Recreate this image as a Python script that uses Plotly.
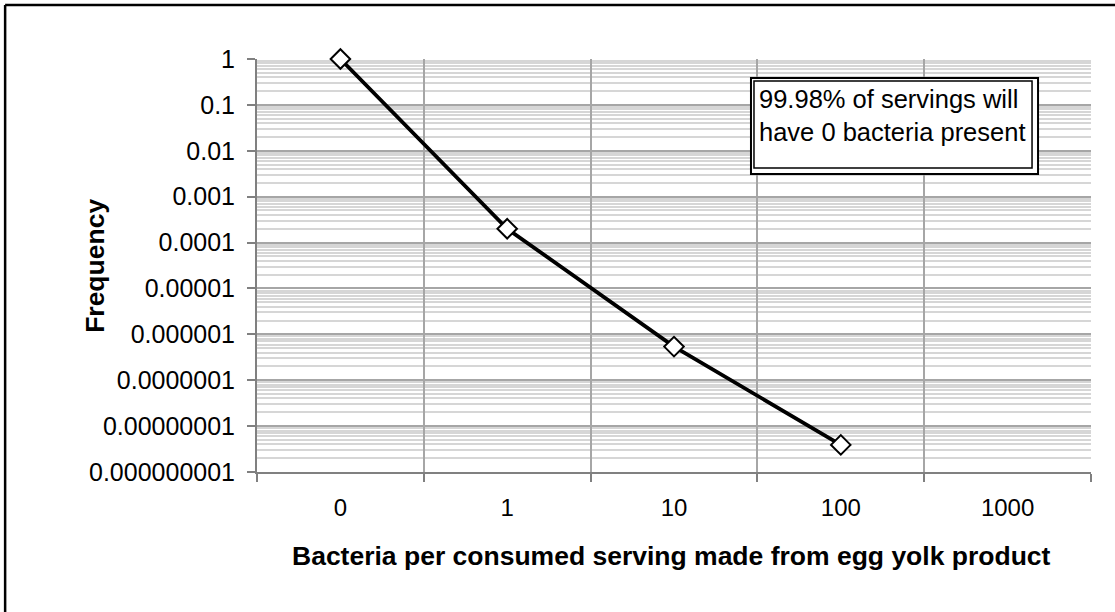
import plotly.graph_objects as go

# Bacteria count categories and the frequency of servings in each
categories = ["0", "1", "10", "100", "1000"]
point_categories = ["0", "1", "10", "100"]
frequency = [0.9998, 2.0e-4, 5.4e-7, 3.9e-9]

note_lines = ["99.98% of servings will", "have 0 bacteria present"]
x_title = "Bacteria per consumed serving made from egg yolk product"
y_title = "Frequency"

FONT = "Liberation Sans, Arial, sans-serif"
AXIS_GRAY = "#808080"
MAJOR_GRID = "#A6A6A6"
MINOR_GRID = "#D6D6D6"

fig = go.Figure()
fig.add_trace(go.Scatter(
    x=point_categories,
    y=frequency,
    mode="lines+markers",
    line=dict(color="black", width=3.8),
    marker=dict(symbol="diamond", size=15, color="white",
                line=dict(color="black", width=2)),
    showlegend=False,
    cliponaxis=False,
))

fig.update_layout(
    width=1115,
    height=612,
    margin=dict(l=257, r=24, t=59, b=140),
    paper_bgcolor="white",
    plot_bgcolor="white",
    font=dict(family=FONT, size=25, color="black"),
    xaxis=dict(
        type="category",
        categoryorder="array",
        categoryarray=categories,
        range=[-0.5, len(categories) - 0.5],
        tickson="boundaries",
        ticks="outside",
        ticklen=8,
        tickwidth=2,
        tickcolor=AXIS_GRAY,
        showline=True,
        linecolor=AXIS_GRAY,
        linewidth=2,
        showgrid=True,
        gridcolor=MAJOR_GRID,
        gridwidth=1.5,
        ticklabelstandoff=13,
        tickfont=dict(size=24),
        zeroline=False,
    ),
    yaxis=dict(
        type="log",
        range=[-9, 0],
        dtick=1,
        tickformat=".9~f",
        ticks="outside",
        ticklen=8,
        tickwidth=2,
        tickcolor=AXIS_GRAY,
        showline=True,
        linecolor=AXIS_GRAY,
        linewidth=2,
        showgrid=True,
        gridcolor=MAJOR_GRID,
        gridwidth=1.5,
        ticklabelstandoff=7,
        tickfont=dict(size=25),
        minor=dict(dtick="D1", showgrid=True, gridcolor=MINOR_GRID,
                   gridwidth=1.5, ticks=""),
        zeroline=False,
    ),
)

# Axis titles
fig.add_annotation(text=f"<b>{x_title}</b>", xref="paper", yref="paper",
                   x=0.4976, y=-0.203, xanchor="center", yanchor="middle",
                   showarrow=False, font=dict(size=26.5))
fig.add_annotation(text=f"<b>{y_title}</b>", xref="paper", yref="paper",
                   x=-0.195, y=0.5, xanchor="center", yanchor="middle",
                   textangle=-90, showarrow=False, font=dict(size=26.5))

# Note box with a double outline
fig.add_shape(type="rect", xref="paper", yref="paper",
              x0=0.5923, x1=0.9365, y0=0.7215, y1=0.954,
              line=dict(color="black", width=2), fillcolor="white", layer="above")
fig.add_shape(type="rect", xref="paper", yref="paper",
              x0=0.5959, x1=0.9293, y0=0.7361, y1=0.9467,
              line=dict(color="black", width=1.5), layer="above")
fig.add_annotation(text="<br>".join(note_lines), xref="paper", yref="paper",
                   x=0.5995, y=0.862, xanchor="left", yanchor="middle",
                   align="left", showarrow=False, font=dict(size=25.5))

# Outer chart frame: top and left edges, kept within the page
fig.add_shape(type="line", xref="paper", yref="paper",
              x0=-0.302, x1=1.0288, y0=1.1308, y1=1.1308,
              line=dict(color="black", width=2.5), layer="above")
fig.add_shape(type="line", xref="paper", yref="paper",
              x0=-0.302, x1=-0.302, y0=-0.339, y1=1.1308,
              line=dict(color="black", width=2.5), layer="above")

fig.write_html("out.html")
